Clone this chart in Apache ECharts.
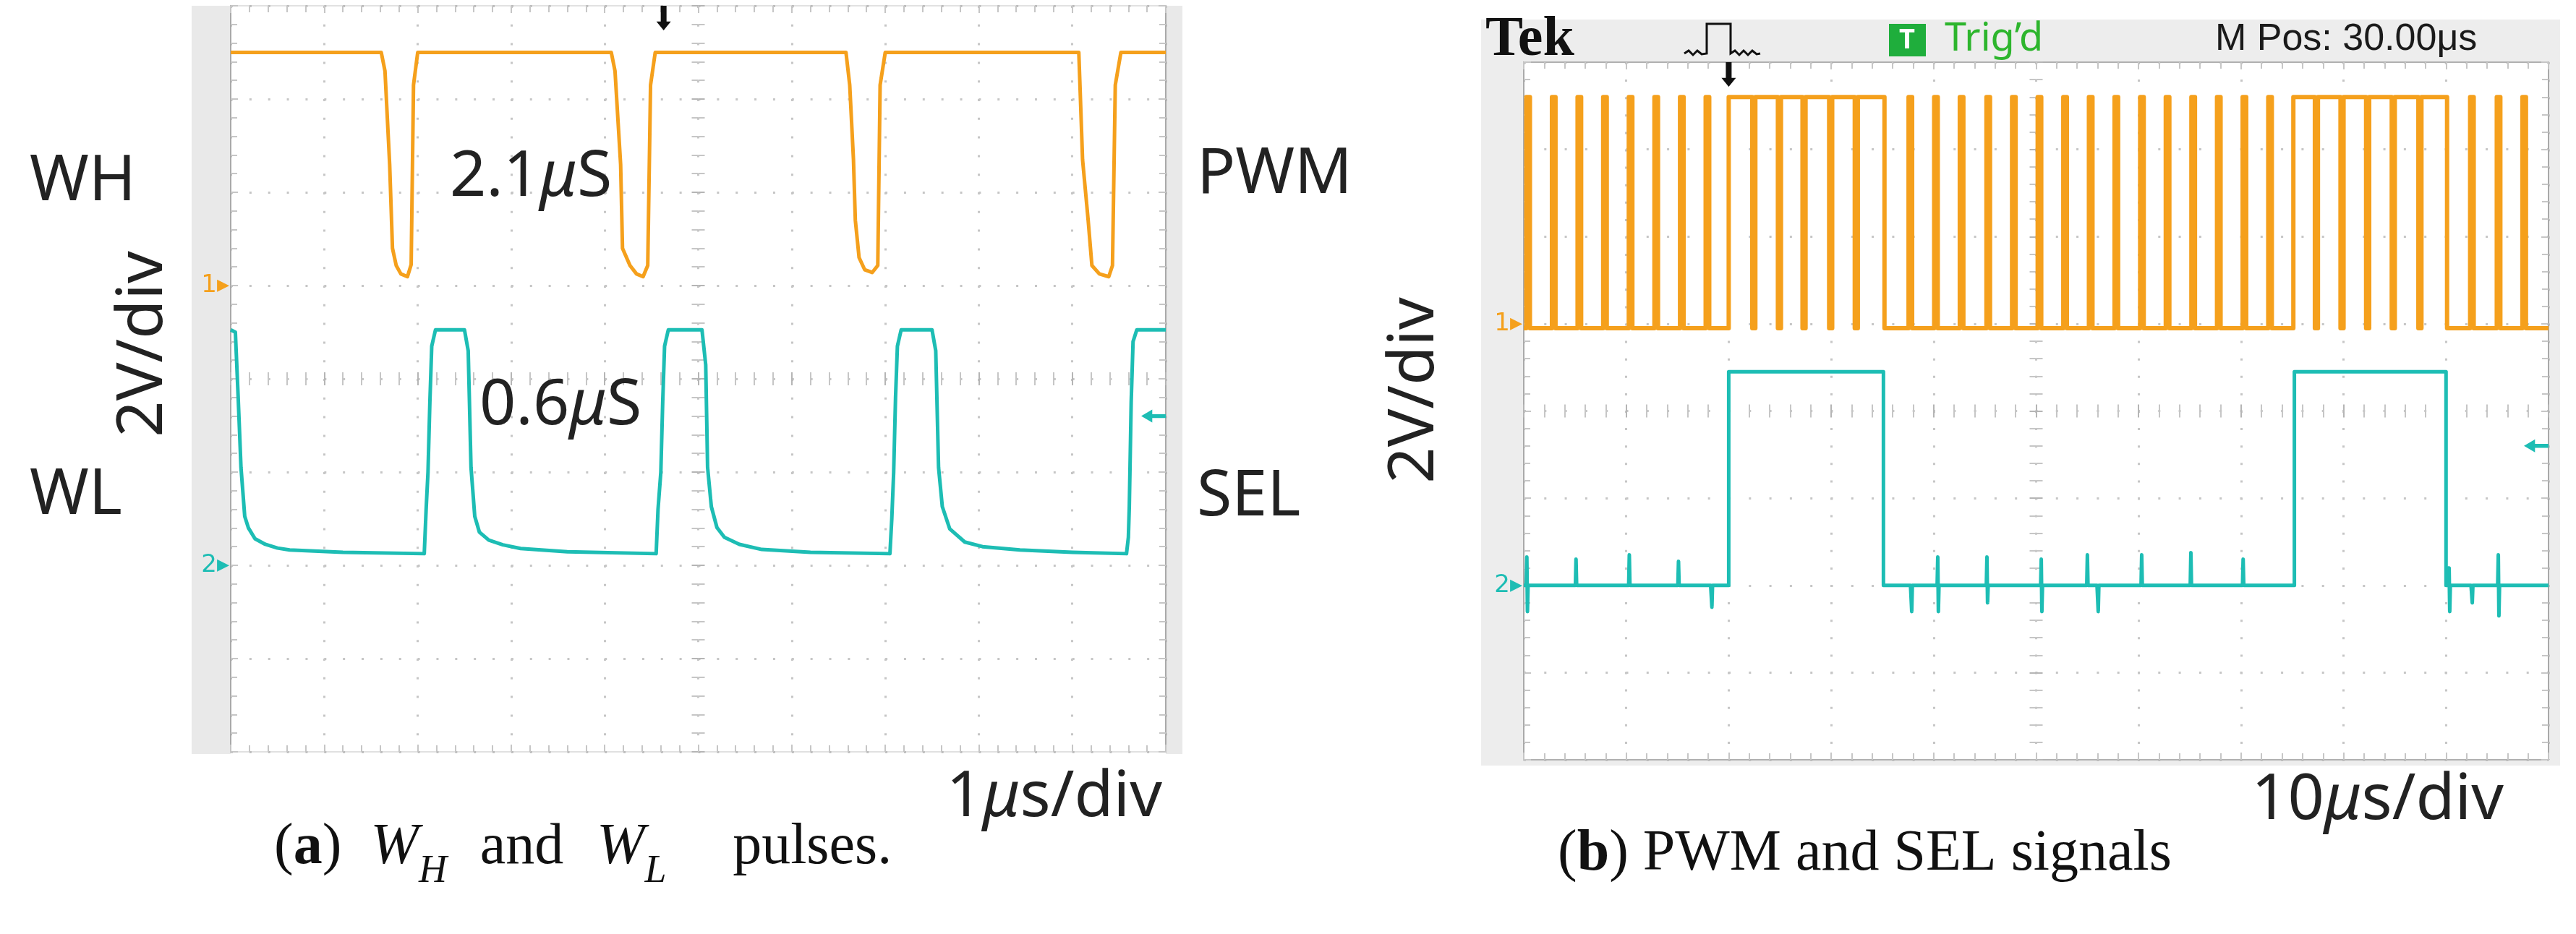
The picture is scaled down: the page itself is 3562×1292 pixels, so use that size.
<!DOCTYPE html>
<html>
<head>
<meta charset="utf-8">
<title>WH/WL pulses and PWM/SEL signals</title>
<script src="https://cdn.jsdelivr.net/npm/echarts@6/dist/echarts.min.js"></script>
<style>
html, body { margin: 0; padding: 0; background: #fff; }
#chart { width: 3562px; height: 1292px; }
</style>
</head>
<body>
<div id="chart"></div>
<script>
// ---- (a) 1us/div capture: [time us, volts] ----
const whPoints = [
  [0, 5.0], [1.61, 5.0], [1.65, 4.6], [1.70, 2.6], [1.73, 0.8], [1.77, 0.43], [1.82, 0.25], [1.89, 0.19], [1.93, 0.45], [1.955, 4.3], [2.0, 5.0],
  [4.07, 5.0], [4.11, 4.6], [4.17, 2.6], [4.19, 0.8], [4.27, 0.43], [4.34, 0.25], [4.41, 0.19], [4.46, 0.43], [4.49, 4.3], [4.54, 5.0],
  [6.58, 5.0], [6.62, 4.3], [6.66, 2.7], [6.68, 1.4], [6.72, 0.6], [6.78, 0.34], [6.86, 0.28], [6.92, 0.43], [6.945, 4.3], [7.0, 5.0],
  [9.07, 5.0], [9.11, 2.7], [9.17, 1.4], [9.21, 0.43], [9.29, 0.25], [9.39, 0.19], [9.43, 0.43], [9.46, 4.3], [9.52, 5.0], [10, 5.0]
];
const wlPoints = [
  [0, 5.05], [0.05, 5.0], [0.08, 3.6], [0.11, 2.1], [0.15, 1.05], [0.19, 0.8], [0.26, 0.57], [0.37, 0.45], [0.5, 0.37], [0.63, 0.33], [1.2, 0.28], [2.07, 0.25],
  [2.09, 1.2], [2.11, 2.0], [2.13, 3.5], [2.15, 4.7], [2.19, 5.05], [2.50, 5.05], [2.54, 4.6], [2.57, 2.1], [2.61, 1.05], [2.66, 0.71], [2.76, 0.54], [2.91, 0.44], [3.10, 0.36], [3.6, 0.29], [4.55, 0.25],
  [4.57, 1.2], [4.60, 2.0], [4.62, 3.5], [4.64, 4.7], [4.68, 5.05], [5.04, 5.05], [5.08, 4.3], [5.10, 2.1], [5.14, 1.26], [5.20, 0.81], [5.28, 0.6], [5.44, 0.45], [5.68, 0.34], [6.2, 0.28], [7.05, 0.25],
  [7.07, 1.0], [7.09, 2.0], [7.11, 3.6], [7.13, 4.7], [7.17, 5.05], [7.50, 5.05], [7.54, 4.6], [7.57, 2.1], [7.61, 1.26], [7.69, 0.78], [7.85, 0.5], [8.04, 0.4], [8.44, 0.33], [9.0, 0.28], [9.58, 0.25],
  [9.60, 0.6], [9.61, 1.26], [9.63, 3.5], [9.65, 4.8], [9.69, 5.05], [10, 5.05]
];

// ---- (b) 10us/div capture: high intervals [start us, end us] ----
const pwmHigh = [
  [0.25, 0.6], [2.75, 3.1], [5.25, 5.6], [7.75, 8.1], [10.25, 10.6], [12.75, 13.1], [15.25, 15.6], [17.75, 18.1],
  [20.0, 22.3], [22.6, 24.8], [25.1, 27.2], [27.5, 29.8], [30.1, 32.3], [32.6, 35.2],
  [37.55, 37.9], [40.05, 40.4], [42.55, 42.9], [45.15, 45.5], [47.65, 48.0], [50.15, 50.5], [52.65, 53.0], [55.15, 55.5],
  [57.65, 58.0], [60.15, 60.5], [62.65, 63.0], [65.15, 65.5], [67.65, 68.0], [70.15, 70.5], [72.65, 73.0],
  [75.1, 77.2], [77.5, 79.7], [80.0, 82.2], [82.5, 84.7], [85.0, 87.3], [87.6, 90.1],
  [92.35, 92.7], [94.95, 95.3], [97.45, 97.8]
];
const pwmLevels = [-0.1, 5.2];
const selHigh = [[20.0, 35.1], [75.2, 90.0]];
const selLevels = [0, 4.9];
// glitches on SEL low level: [time us, up V, down V]
const selSpikes = [
  [0.3, 0.65, -0.6], [5.1, 0.6, 0], [10.3, 0.7, 0], [15.1, 0.55, 0], [18.3, 0, -0.5],
  [37.8, 0, -0.6], [40.4, 0.65, -0.6], [45.2, 0.65, -0.4], [50.5, 0.6, -0.6], [55.0, 0.7, 0], [56.0, 0, -0.6],
  [60.3, 0.7, 0], [65.1, 0.75, 0], [70.2, 0.6, 0], [90.3, 0.4, -0.6], [92.5, 0, -0.4], [95.1, 0.7, -0.7]
];

const trigTimeA = 4.63, trigTimeB = 20, trigLevel = 3.2;
const timeSpanA = 10, timeSpanB = 100;

const orange = '#f5a01c';
const cyan = '#1dbdb4';
const dotColor = '#c6c6c6';
const SANS = "'Noto Sans', 'DejaVu Sans', sans-serif";
const SERIF = "'Liberation Serif', 'DejaVu Serif', serif";

function stepTrace(intervals, lo, hi, tEnd) {
  const pts = [[0, lo]];
  intervals.forEach(([a, b]) => { pts.push([a, lo], [a, hi], [b, hi], [b, lo]); });
  pts.push([tEnd, lo]);
  return pts;
}
function withSpikes(pts, spikes, lo) {
  const extra = [];
  spikes.forEach(([t, up, dn]) => {
    extra.push([t - 0.06, lo], [t, lo + up], [t + 0.06, lo + dn], [t + 0.12, lo]);
  });
  return pts.concat(extra)
    .map((p, i) => [p, i])
    .sort((a, b) => a[0][0] - b[0][0] || a[1] - b[1])
    .map(p => p[0]);
}

const pwmData = stepTrace(pwmHigh, pwmLevels[0], pwmLevels[1], timeSpanB);
const selData = withSpikes(stepTrace(selHigh, selLevels[0], selLevels[1], timeSpanB), selSpikes, selLevels[0]);

// scope graticule: 10 x 8 divisions, dotted lines, ticks on edges and centre cross
function scopeAxes(gi, tMax, dashX, dashY, edgeLR, edgeTB) {
  const xBase = gi * 5, yBase = gi * 6;
  const off = { show: false };
  const tick = { show: true, inside: true, length: 10, lineStyle: { color: dotColor, width: 2 } };
  const ctick = { show: true, length: 9, lineStyle: { color: '#b5b5b5', width: 2 } };
  const minor = { show: true, splitNumber: 5, length: 9, lineStyle: { color: dotColor, width: 2 } };
  const edge = c => ({ show: true, onZero: false, lineStyle: { color: c, width: 2 } });
  const centerX = pos => ({
    gridIndex: gi, type: 'value', position: pos, min: -5, max: 5, interval: 1,
    axisLine: { show: true, onZero: true, onZeroAxisIndex: yBase + 3, lineStyle: { color: 'rgba(0,0,0,0)' } },
    axisTick: ctick, minorTick: minor, axisLabel: off, splitLine: off
  });
  const centerY = pos => ({
    gridIndex: gi, type: 'value', position: pos, min: -4, max: 4, interval: 1,
    axisLine: { show: true, onZero: true, onZeroAxisIndex: xBase + 2, lineStyle: { color: 'rgba(0,0,0,0)' } },
    axisTick: ctick, minorTick: minor, axisLabel: off, splitLine: off
  });
  const gndLabel = (txt, color) => ({
    show: true, margin: 2, color: color, fontSize: 34, fontFamily: 'DejaVu Sans',
    formatter: v => (v === 0 ? txt : '')
  });
  const xAxes = [
    { gridIndex: gi, type: 'value', position: 'bottom', min: 0, max: tMax, interval: tMax / 10,
      axisLine: edge(edgeTB), axisTick: tick, minorTick: minor, axisLabel: off,
      splitLine: { show: true, lineStyle: { color: dotColor, width: 3, type: dashX } } },
    { gridIndex: gi, type: 'value', position: 'top', min: 0, max: tMax, interval: tMax / 10,
      axisLine: edge(edgeTB), axisTick: tick, minorTick: minor, axisLabel: off, splitLine: off },
    { gridIndex: gi, type: 'value', show: false, min: -5, max: 5, axisLine: { onZero: false } },
    centerX('bottom'), centerX('top')
  ];
  const yAxes = [
    { gridIndex: gi, type: 'value', position: 'left', min: -10, max: 6, interval: 2,
      axisLine: edge(edgeLR), axisTick: tick, minorTick: minor, axisLabel: gndLabel('1▸', orange),
      splitLine: { show: true, lineStyle: { color: dotColor, width: 3, type: dashY } } },
    { gridIndex: gi, type: 'value', position: 'left', min: -4, max: 12, interval: 2,
      axisLine: { show: false, onZero: false }, axisTick: off, axisLabel: gndLabel('2▸', cyan), splitLine: off },
    { gridIndex: gi, type: 'value', position: 'right', min: -10, max: 6, interval: 2,
      axisLine: edge(edgeLR), axisTick: tick, minorTick: minor, axisLabel: off, splitLine: off },
    { gridIndex: gi, type: 'value', show: false, min: -4, max: 4, axisLine: { onZero: false } },
    centerY('left'), centerY('right')
  ];
  return { xAxes, yAxes };
}

const scopeA = scopeAxes(0, timeSpanA, [3, 22.8], [3, 22.86], '#a9a9a9', 'rgba(170,170,170,0.35)');
const scopeB = scopeAxes(1, timeSpanB, [3, 21.1], [3, 25.3], '#a9a9a9', '#b0b0b0');

const arrowDown = 'path://M3,0L7,0L7,18L10,18L5,28L0,18L3,18Z';
const arrowLeft = 'path://M0,5L9,0L9,3.5L20,3.5L20,6.5L9,6.5L9,10Z';
const trigMark = (t, top) => ({
  silent: true, label: { show: false },
  data: [{ coord: [t, top], symbol: arrowDown, symbolSize: [20, 34], symbolOffset: [0, 17], itemStyle: { color: '#111' } }]
});
const levelMark = (t, v) => ({
  silent: true, label: { show: false },
  data: [{ coord: [t, v], symbol: arrowLeft, symbolSize: [34, 18], symbolOffset: [-17, 0], itemStyle: { color: cyan } }]
});

function trace(name, xi, yi, data, color, width, mark) {
  return {
    name, type: 'line', xAxisIndex: xi, yAxisIndex: yi, data,
    symbol: 'none', silent: true, z: 5,
    lineStyle: { color, width, join: 'round' }, itemStyle: { color },
    markPoint: mark
  };
}

function txt(x, y, text, style, extra) {
  return Object.assign({
    type: 'text', x, y, z: 100, silent: true,
    style: Object.assign({
      text, fill: '#222', fontFamily: SANS, fontSize: 88,
      align: 'left', verticalAlign: 'middle', textAlign: 'left', textVerticalAlign: 'middle'
    }, style)
  }, extra || {});
}
const muRich = { t: { fontFamily: SANS, fontSize: 88, fill: '#222' }, m: { fontFamily: SANS, fontSize: 88, fontStyle: 'italic', fill: '#222' } };
const capRich = {
  r: { fontFamily: SERIF, fontSize: 80, fill: '#111', lineHeight: 82, verticalAlign: 'top' },
  b: { fontFamily: SERIF, fontSize: 80, fontWeight: 'bold', fill: '#111', lineHeight: 82, verticalAlign: 'top' },
  i: { fontFamily: SERIF, fontSize: 80, fontStyle: 'italic', fill: '#111', lineHeight: 82, verticalAlign: 'top' },
  s: { fontFamily: SERIF, fontSize: 54, fontStyle: 'italic', fill: '#111', lineHeight: 54, verticalAlign: 'bottom' },
  g: { fontFamily: SERIF, fontSize: 80, lineHeight: 100, verticalAlign: 'top' }
};

const chart = echarts.init(document.getElementById('chart'), null, { renderer: 'canvas' });
chart.setOption({
  animation: false,
  backgroundColor: '#ffffff',
  grid: [
    { left: 319, top: 8, width: 1293, height: 1032, show: true, backgroundColor: '#ffffff', borderWidth: 0, outerBoundsMode: 'none' },
    { left: 2107, top: 86, width: 1417, height: 965, show: true, backgroundColor: '#ffffff', borderWidth: 0, outerBoundsMode: 'none' }
  ],
  xAxis: scopeA.xAxes.concat(scopeB.xAxes),
  yAxis: scopeA.yAxes.concat(scopeB.yAxes),
  series: [
    trace('WH', 0, 0, whPoints, orange, 5, trigMark(trigTimeA, 6)),
    trace('WL', 0, 1, wlPoints, cyan, 5, levelMark(timeSpanA, trigLevel)),
    trace('PWM', 5, 6, pwmData, orange, 6, trigMark(trigTimeB, 6)),
    trace('SEL', 5, 7, selData, cyan, 5, levelMark(timeSpanB, trigLevel))
  ],
  graphic: [
    // scope bezels
    { type: 'rect', z: -10, silent: true, shape: { x: 265, y: 8, width: 54, height: 1035 }, style: { fill: '#e9e9e9' } },
    { type: 'rect', z: -10, silent: true, shape: { x: 1612, y: 8, width: 23, height: 1035 }, style: { fill: '#e9e9e9' } },
    { type: 'rect', z: -10, silent: true, shape: { x: 2048, y: 27, width: 1492, height: 1032 }, style: { fill: '#ededed' } },

    // (a) annotations
    txt(41, 252, 'WH'),
    txt(622, 246, '{t|2.1}{m|μ}{t|S}', { rich: muRich }),
    txt(1655, 242, 'PWM'),
    txt(663, 562, '{t|0.6}{m|μ}{t|S}', { rich: muRich }),
    txt(41, 686, 'WL'),
    txt(1655, 688, 'SEL'),
    txt(199, 476, '2V/div', { align: 'center', textAlign: 'center' }, { rotation: Math.PI / 2 }),
    txt(1607, 1104, '{t|1}{m|μ}{t|s/div}', { rich: muRich, align: 'right', textAlign: 'right' }),
    txt(379, 1183, '{r|(}{b|a}{r|)}{g|  }{i|W}{s|H}  {r|and}  {i|W}{s|L}    {r|pulses.}', { rich: capRich }),

    // (b) annotations
    txt(1957, 540, '2V/div', { align: 'center', textAlign: 'center' }, { rotation: Math.PI / 2 }),
    txt(3462, 1108, '{t|10}{m|μ}{t|s/div}', { rich: muRich, align: 'right', textAlign: 'right' }),
    txt(2154, 1183, '{r|(}{b|b}{r|) PWM and SEL signals}', { rich: capRich }),

    // (b) scope header
    txt(2054, 56, 'Tek', { fontFamily: SERIF, fontWeight: 'bold', fontSize: 78, fill: '#111' }),
    { type: 'polyline', z: 100, silent: true,
      shape: { points: [[2329, 74], [2335, 70], [2341, 76], [2347, 70], [2353, 75], [2360, 74], [2360, 33], [2393, 33], [2393, 74],
                        [2399, 70], [2405, 76], [2411, 70], [2417, 76], [2423, 70], [2429, 75], [2434, 74]] },
      style: { stroke: '#111', lineWidth: 3, fill: null } },
    { type: 'rect', z: 100, silent: true, shape: { x: 2612, y: 33, width: 51, height: 45 }, style: { fill: '#1fae3c' } },
    txt(2637, 56, 'T', { fontSize: 38, fontWeight: 'bold', fill: '#ffffff', align: 'center', textAlign: 'center' }),
    txt(2689, 55, 'Trig’d', { fontSize: 54, fill: '#2db52d' }),
    txt(3063, 55, 'M Pos: 30.00μs', { fontSize: 52, fill: '#1a1a1a', fontFamily: "'Liberation Sans Narrow', 'Liberation Sans', sans-serif" })
  ]
});
</script>
</body>
</html>
